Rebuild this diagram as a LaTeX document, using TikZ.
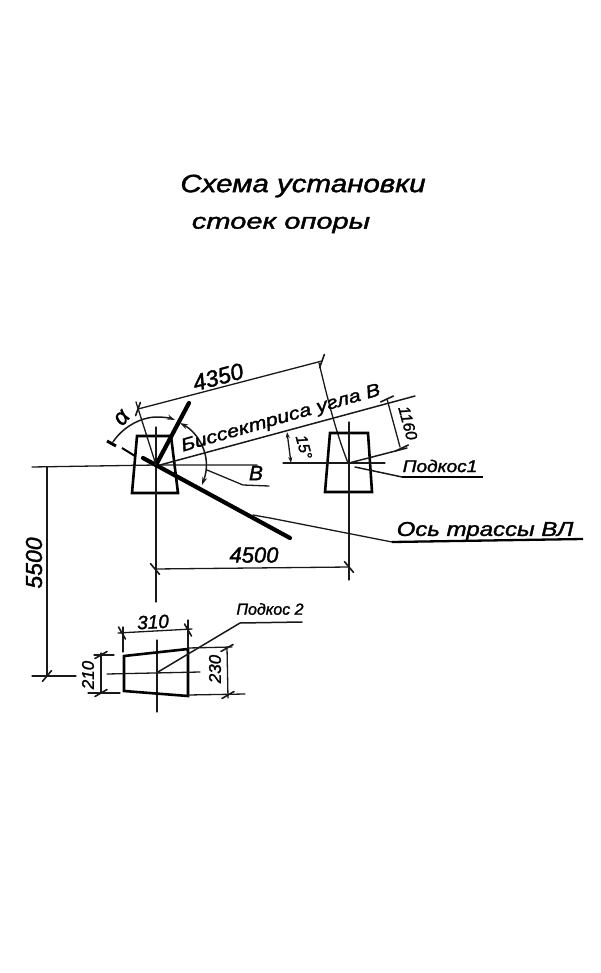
\documentclass[tikz,border=0pt]{standalone}
\usepackage{fontspec}
\setmainfont{Liberation Sans}
\usetikzlibrary{arrows.meta}
\tikzset{
  thinline/.style={line width=1.3pt,black!90,line cap=round},
  outline/.style={line width=2.6pt,black,line join=miter},
  heavy/.style={line width=4.2pt,black,line cap=round},
  lbl/.style={inner sep=0pt,font=\itshape\fontsize{#1}{#1}\selectfont\addfontfeatures{FakeBold=1.5}},
}
\newcommand{\slashmark}[2][30]{\draw[thinline,line width=1.6pt,rotate around={#1:(#2)}] ([xshift=-7pt]#2) -- ([xshift=7pt]#2);}
\begin{document}
\begin{tikzpicture}[x=1pt,y=-1pt]
\useasboundingbox (0,0) rectangle (600,973);
\fill[white] (0,0) rectangle (600,973);
% titles
\node[lbl=25,xscale=1.18] (title1) at (303,186) {Схема установки};
\node[lbl=22,xscale=1.32] (title2) at (281,225) {стоек опоры};
% left stand
\coordinate (cL) at (156,465);
\draw[outline] (137,436) -- (171,436) -- (178,493) -- (132,493) -- cycle;
\draw[thinline] (32,467) -- (cL) -- (257,465);
\draw[thinline] (156,427) -- (156,602);
\draw[thinline] (157,640) -- (157,712);
\draw[heavy] (cL) -- (189,403);
\draw[heavy] (143,458) -- (290,538);
\draw[line width=2pt] (122,448) -- (135,456);
\draw[thinline,line width=1.5pt] (160,465) -- (415,396);
\draw[thinline] (136,402) -- (cL);
% beta leader
\draw[thinline] (207,470) -- (243,485) -- (269,486);
\node[lbl=21] (betaL) at (256,473) {В};
% arcs
\draw[thinline,line width=1.5pt,-{Stealth[length=8pt,width=5pt]}] (113,442) .. controls (122,428) and (140,417) .. (157,417) .. controls (163,417) and (170,418) .. (175,420);
\draw[line width=3pt] (107,441) -- (116,446);
\draw[thinline,line width=1.5pt,{Stealth[length=8pt,width=5pt]}-{Stealth[length=8pt,width=5pt]}] (180,423) .. controls (197,432) and (213,455) .. (202,485);
\node[lbl=23,rotate=50] (alpha) at (122,418) {α};
% 4350
\draw[thinline] (138,409) -- (322,361);
\slashmark[70]{138,409}
\slashmark[70]{322,361}
\node[lbl=23,rotate=15] (d4350) at (218,377) {4350};
\draw[thinline] (319,363) .. controls (326,392) and (335,430) .. (348,463);
% bisector text
\node[lbl=18,rotate=16,xscale=1.2] (bis) at (281,419) {Биссектриса угла В};
% right stand
\coordinate (cR) at (349,463);
\draw[outline] (330,433) -- (368,433) -- (372,492) -- (325,492) -- cycle;
\draw[thinline] (349,422) -- (349,580);
\draw[thinline] (283,463) -- (385,463);
\draw[thinline,line width=1.5pt] (cR) -- (407,448);
% 15 deg
\draw[thinline,{Stealth[length=6pt,width=4pt]}-{Stealth[length=6pt,width=4pt]}] (287,432) -- (291,463);
\node[lbl=16,rotate=-75] (d15) at (304,447) {15°};
% 1160
\draw[thinline] (387,399) -- (400,447);
\slashmark[25]{387,399}
\slashmark[25]{402,448}
\node[lbl=16,rotate=-75] (d1160) at (408,423) {1160};
% podkos 1
\draw[thinline,line width=1.5pt] (355,467) -- (402,477);
\draw[line width=2.3pt] (402,477) -- (483,477);
\node[lbl=17,xscale=1.12] (p1) at (440,466) {Подкос1};
% axis
\draw[thinline] (253,515) -- (270,518) -- (392,542);
\draw[line width=2.3pt] (392,542) -- (583,539);
\node[lbl=20,xscale=1.2] (axis) at (485,531) {Ось трассы ВЛ};
% 4500
\draw[thinline] (155,569) -- (349,567);
\slashmark[-50]{155,569}
\slashmark[-50]{349,567}
\node[lbl=22] (d4500) at (254,555) {4500};
% 5500
\draw[thinline] (47,467) -- (47,676);
\draw[thinline] (32,676) -- (76,676);
\slashmark[50]{47,676}
\node[lbl=23,rotate=90] (d5500) at (34,563) {5500};
% lower stand
\draw[outline] (124,656) -- (188,649) -- (188,696) -- (124,691) -- cycle;
\draw[thinline] (107,674) -- (200,672);
\draw[thinline] (123,627) -- (123,652);
\draw[thinline] (188,620) -- (188,649);
\draw[thinline] (118,633) -- (192,629);
\slashmark[-60]{122,633}
\slashmark[-60]{188,630}
\node[lbl=19,rotate=3] (d310) at (153,622) {310};
% 210
\draw[thinline] (101,653) -- (101,693);
\draw[thinline] (94,655) -- (114,655);
\draw[thinline] (88,693) -- (120,693);
\slashmark[30]{101,655}
\slashmark[30]{101,693}
\node[lbl=17,rotate=90] (d210) at (88,675) {210};
% 230
\draw[thinline] (227,647) -- (228,698);
\draw[thinline] (188,648) -- (232,647);
\draw[thinline] (188,695) -- (245,694);
\slashmark[30]{227,648}
\slashmark[30]{228,695}
\node[lbl=17,rotate=90] (d230) at (215,669) {230};
% podkos 2
\draw[thinline,line width=1.5pt] (158,672) -- (240,623) -- (302,622);
\node[lbl=16,xscale=1] (p2) at (270,609) {Подкос 2};
\end{tikzpicture}
\end{document}
